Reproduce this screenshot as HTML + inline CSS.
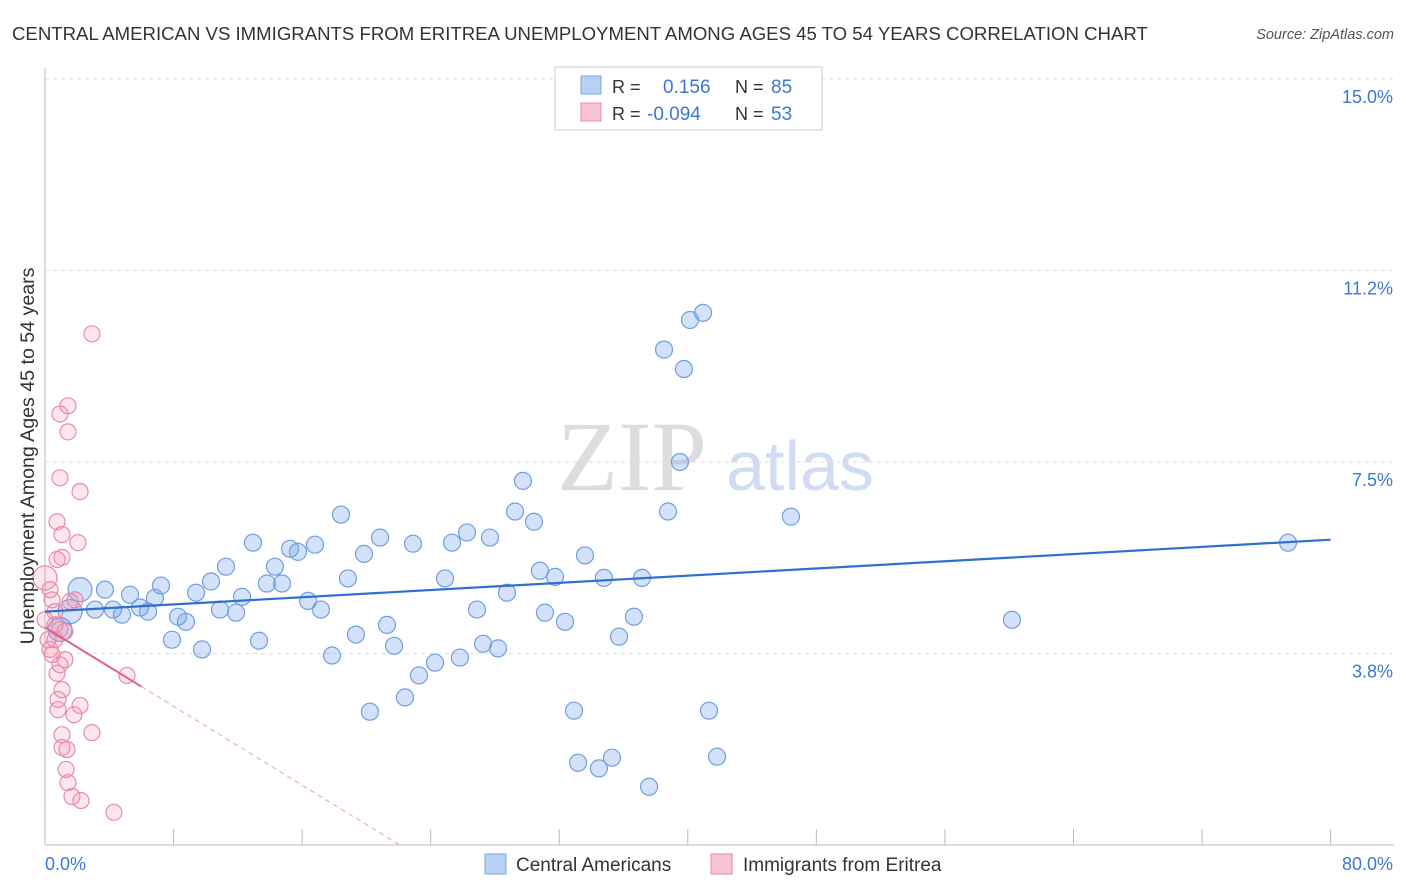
<!DOCTYPE html>
<html><head><meta charset="utf-8">
<style>
body{margin:0;background:#fff;font-family:"Liberation Sans",sans-serif;}
#c{position:relative;width:1406px;height:892px;overflow:hidden;}
</style></head>
<body>
<div id="c">
<svg id="s" width="1406" height="892" xmlns="http://www.w3.org/2000/svg">
<text x="12" y="40" font-size="18.6" fill="#333">CENTRAL AMERICAN VS IMMIGRANTS FROM ERITREA UNEMPLOYMENT AMONG AGES 45 TO 54 YEARS CORRELATION CHART</text>
<text x="1394" y="39" font-size="14.5" fill="#555" font-style="italic" text-anchor="end">Source: ZipAtlas.com</text>
<g>
<text x="632" y="490" font-size="100" fill="#ddd" font-family="Liberation Serif,serif" text-anchor="middle">ZIP</text>
<text x="800" y="490" font-size="70" fill="#cfdcf2" text-anchor="middle">atlas</text>
</g>
<g id="grid"></g>
<g id="axes"></g>
<g id="pts"></g>
<g id="trend"></g>
<text transform="translate(34,456) rotate(-90)" font-size="19.6" fill="#333" text-anchor="middle">Unemployment Among Ages 45 to 54 years</text>
<g>
<rect x="555" y="67" width="267" height="63" fill="#fff" stroke="#ccc"/>
<rect x="581" y="76" width="20" height="18" fill="#b8d0f3" stroke="#7aa6e0"/>
<rect x="581" y="103" width="20" height="18" fill="#f9c5d5" stroke="#e88aab"/>
<text x="612" y="93" font-size="18" fill="#333">R =</text>
<text x="663" y="93" font-size="19" fill="#3a78d4">0.156</text>
<text x="735" y="93" font-size="18" fill="#333">N =</text>
<text x="771" y="93" font-size="19" fill="#3a78d4">85</text>
<text x="612" y="120" font-size="18" fill="#333">R =</text>
<text x="647" y="120" font-size="19" fill="#3a78d4">-0.094</text>
<text x="735" y="120" font-size="18" fill="#333">N =</text>
<text x="771" y="120" font-size="19" fill="#3a78d4">53</text>
</g>
<g>
<rect x="485" y="854" width="21" height="20" fill="#b8d0f3" stroke="#7aa6e0"/>
<text x="516" y="871" font-size="19" fill="#333">Central Americans</text>
<rect x="711" y="854" width="21" height="20" fill="#f9c5d5" stroke="#e88aab"/>
<text x="743" y="871" font-size="19" fill="#333">Immigrants from Eritrea</text>
</g>
</svg>
</div>
<script>
const blueX=[1.56,2.18,0.93,3.11,3.73,4.23,4.79,5.29,5.91,6.41,6.84,7.22,7.90,8.28,8.77,9.40,9.77,10.33,10.89,11.26,11.89,12.26,12.94,13.32,13.81,14.31,14.75,15.25,15.74,16.37,16.80,17.17,17.86,18.42,18.85,19.35,19.85,20.22,20.85,21.28,21.72,22.40,22.90,23.27,24.27,24.89,25.33,25.82,26.26,26.88,27.26,27.69,28.19,28.75,29.25,29.74,30.43,30.80,31.11,31.74,32.36,32.92,33.17,33.60,34.47,34.78,35.28,35.72,36.65,37.15,37.59,38.52,38.77,39.51,39.76,40.14,40.95,41.32,41.82,46.42,60.17,77.35];
const blueY=[4.57,5.0,4.22,4.61,5.0,4.61,4.51,4.90,4.65,4.57,4.84,5.08,4.02,4.47,4.37,4.94,3.83,5.16,4.61,5.45,4.55,4.86,5.92,4.00,5.12,5.45,5.12,5.80,5.74,4.78,5.88,4.61,3.71,6.47,5.22,4.12,5.70,2.61,6.02,4.31,3.90,2.89,5.90,3.32,3.57,5.22,5.92,3.67,6.12,4.61,3.94,6.02,3.85,4.94,6.53,7.13,6.33,5.37,4.55,5.25,4.37,2.63,1.61,5.67,1.50,5.23,1.71,4.08,4.47,5.23,1.14,9.70,6.53,7.50,9.32,10.28,10.42,2.63,1.73,6.43,4.41,5.92];
const blueBig=[1,1,1];
const pinkX=[0,0,0.31,0.44,0.62,0.62,0.75,0.75,0.75,0.81,0.81,0.93,0.93,0.93,1.06,1.06,1.06,1.06,1.06,1.24,1.24,1.31,1.37,1.43,1.43,1.43,1.56,1.68,1.80,1.87,2.05,2.18,2.18,2.24,2.92,2.92,4.29,5.10,0.31,0.62,0.19,0.93,0.44];
const pinkY=[5.23,4.41,3.83,4.80,4.31,4.02,6.33,5.59,3.36,2.85,2.65,8.44,7.19,3.53,5.63,6.08,3.04,2.16,1.91,4.18,3.63,1.48,1.87,8.60,8.09,1.22,4.77,0.95,2.55,4.80,5.92,6.92,2.73,0.87,2.20,10.01,0.64,3.32,5.0,4.57,4.02,4.22,3.73];
const blueTrend=[4.57,0.0176];
const pinkTrend=[4.26,-0.193];
const pinkSolidEnd=[6];
const yTicks=[3.75,7.5,11.25,15];
const yTickLabels=["3.8%","7.5%","11.2%","15.0%"];
const xTicks=[0,8,16,24,32,40,48,56,64,72,80];

const NS="http://www.w3.org/2000/svg";
const X=v=>45+v*16.07, Y=v=>845-v*51.07;
function mk(tag,attrs,parent){const e=document.createElementNS(NS,tag);for(const k in attrs)e.setAttribute(k,attrs[k]);document.getElementById(parent).appendChild(e);return e;}
yTicks.forEach((t,i)=>{
 const l=mk('line',{x1:45,x2:1394,y1:Y(t),y2:Y(t),stroke:'#ddd','stroke-dasharray':'4,4'},'grid');
 
 
 const tx=mk('text',{x:1393,y:Y(t)+24,'font-size':18,fill:'#3a78d4','text-anchor':'end'},'axes');
 tx.textContent=yTickLabels[i];
 
 
});
const ax=mk('line',{x1:45,x2:1394,y1:845,y2:845,stroke:'#bbb'},'axes');


const ay=mk('line',{x1:45,x2:45,y1:68,y2:845,stroke:'#bbb'},'axes');


xTicks.forEach(t=>{
 const l=mk('line',{x1:X(t),x2:X(t),y1:829,y2:845,stroke:'#bbb'},'axes');
 
 
});
const xl0=mk('text',{x:45,y:870,'font-size':18,fill:'#3a78d4'},'axes');xl0.textContent=xTicks[0].toFixed(1)+'%';


const xl1=mk('text',{x:1393,y:870,'font-size':18,fill:'#3a78d4','text-anchor':'end'},'axes');xl1.textContent=xTicks[xTicks.length-1].toFixed(1)+'%';


blueX.forEach((v,i)=>{
 const c=mk('circle',{cx:X(v),cy:Y(blueY[i]),r:blueBig[i]?12:8.5,fill:'rgba(110,160,235,0.3)',stroke:'#6f9fe0','stroke-width':1.2},'pts');
 
 
});
pinkX.forEach((v,i)=>{
 const c=mk('circle',{cx:X(v),cy:Y(pinkY[i]),r:i===0?12:8,fill:'rgba(245,140,175,0.22)',stroke:'#e88aab','stroke-width':1.2},'pts');
 
 
});
const bt=mk('line',{x1:X(0),y1:Y(blueTrend[0]),x2:X(80),y2:Y(blueTrend[0]+80*blueTrend[1]),stroke:'#2f6fd0','stroke-width':2.2},'trend');


const xe=pinkSolidEnd[0], xz=-pinkTrend[0]/pinkTrend[1];
const pt=mk('line',{x1:X(0),y1:Y(pinkTrend[0]),x2:X(xe),y2:Y(pinkTrend[0]+xe*pinkTrend[1]),stroke:'#e0608f','stroke-width':2},'trend');


const pd=mk('line',{x1:X(xe),y1:Y(pinkTrend[0]+xe*pinkTrend[1]),x2:X(xz),y2:Y(0),stroke:'#e8a0b8','stroke-width':1,'stroke-dasharray':'5,4'},'trend');


</script>
</body></html>
